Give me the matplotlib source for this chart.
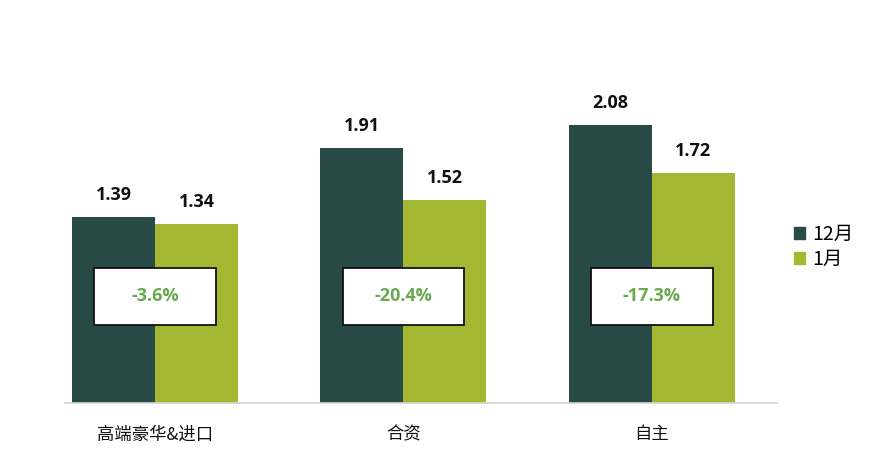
import numpy as np
import matplotlib
matplotlib.use("Agg")
import matplotlib.pyplot as plt
from matplotlib.patches import Rectangle, Patch

plt.rcParams['font.family'] = ['Noto Sans CJK SC', 'DejaVu Sans']

# 数据
categories = ['高端豪华&进口', '合资', '自主']
dec_vals = [1.39, 1.91, 2.08]
jan_vals = [1.34, 1.52, 1.72]
changes = ['-3.6%', '-20.4%', '-17.3%']
series_names = ['12月', '1月']

dark = '#284a47'
light = '#a3b732'
green_txt = '#6aa84f'
num_font = ['Open Sans', 'DejaVu Sans']

fig = plt.figure(figsize=(8.8, 4.58), dpi=100)
ax = fig.add_axes([65/880, 55/458, (777-65)/880, (403-55)/458])

x = np.arange(len(categories))
w = 0.334
b1 = ax.bar(x - w/2, dec_vals, w, color=dark, label=series_names[0])
b2 = ax.bar(x + w/2, jan_vals, w, color=light, label=series_names[1])

for bars in (b1, b2):
    for r in bars:
        ax.text(r.get_x() + r.get_width()/2, r.get_height() + 0.1,
                f'{r.get_height():.2f}', ha='center', va='bottom',
                fontsize=13, fontweight='bold', color='#111111', family=num_font)

# 变化率框
for i, c in enumerate(changes):
    ax.add_patch(Rectangle((i - 0.244, 0.585), 0.488, 0.427,
                           facecolor='white', edgecolor='#111111', lw=1.3, zorder=3))
    ax.text(i, 0.80, c, ha='center', va='center', fontsize=13,
            fontweight='bold', color=green_txt, zorder=4, family=num_font)

ax.set_xlim(-0.362, 2.503)
ax.set_ylim(0, 348/133.5)
ax.set_xticks(x)
ax.set_xticklabels(categories, fontsize=12.5, color='#111111')
ax.tick_params(axis='x', length=0, pad=16)
ax.set_yticks([])
for s in ['top', 'right', 'left']:
    ax.spines[s].set_visible(False)
ax.spines['bottom'].set_color('#d4d4d4')
ax.spines['bottom'].set_linewidth(1.2)

handles = [Patch(color=dark), Patch(color=light)]
fig.legend(handles, series_names, loc='center left',
           bbox_to_anchor=(776/880, 1 - 247/458), frameon=False,
           fontsize=14, handlelength=0.6, handleheight=0.6,
           handletextpad=0.35, labelspacing=0.2)

fig.savefig('out.png', dpi=100, facecolor='white')
